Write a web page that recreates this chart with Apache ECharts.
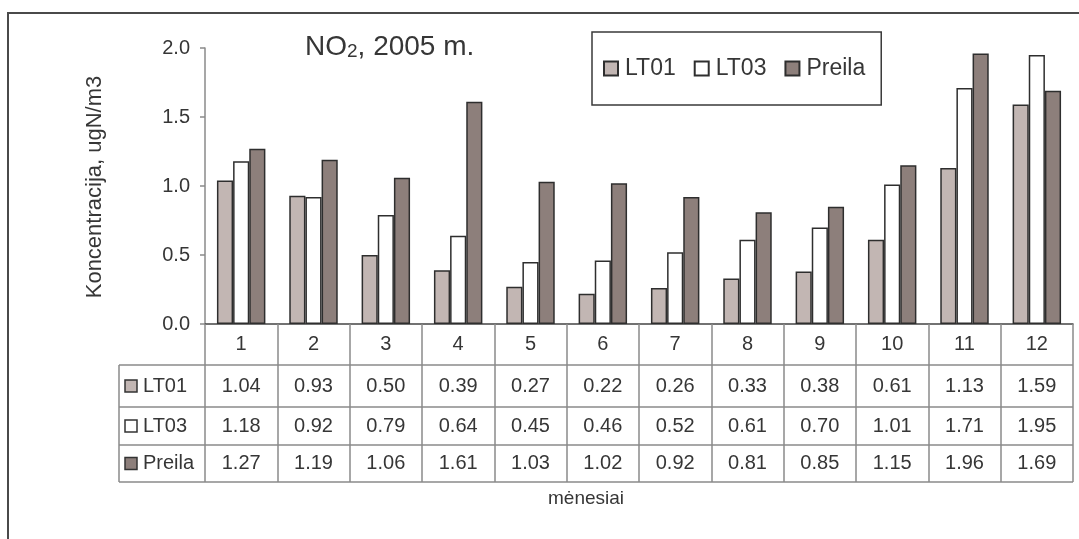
<!DOCTYPE html>
<html>
<head>
<meta charset="utf-8">
<script src="https://cdn.jsdelivr.net/npm/echarts@6/dist/echarts.min.js"></script>
<style>
  html, body { margin: 0; padding: 0; background: #ffffff; }
  #chart { width: 1079px; height: 539px; }
</style>
</head>
<body>
<div id="chart"></div>
<script>
// Monthly NO2 concentrations, 2005
const months = ['1', '2', '3', '4', '5', '6', '7', '8', '9', '10', '11', '12'];
const seriesNames = ['LT01', 'LT03', 'Preila'];
const lt01 = [1.04, 0.93, 0.50, 0.39, 0.27, 0.22, 0.26, 0.33, 0.38, 0.61, 1.13, 1.59];
const lt03 = [1.18, 0.92, 0.79, 0.64, 0.45, 0.46, 0.52, 0.61, 0.70, 1.01, 1.71, 1.95];
const preila = [1.27, 1.19, 1.06, 1.61, 1.03, 1.02, 0.92, 0.81, 0.85, 1.15, 1.96, 1.69];
const yMin = 0, yMax = 2, yStep = 0.5;

const seriesData = [lt01, lt03, preila];
const colors = ['#c2b6b3', '#ffffff', '#8d7f7b'];

// layout
const FONT = '"Liberation Sans", Arial, sans-serif';
const TEXT = '#363636';
const LINE = '#8a8a8a';
const W = 1079, H = 539;
const plot = { left: 205, right: 1073, top: 48, bottom: 324 };
const rowH = [41, 42, 38, 37];          // header row, then one row per series
const labelColLeft = 119;
const tableH = rowH.reduce((a, b) => a + b, 0);
const rowTop = [];
rowH.reduce((acc, h, i) => { rowTop[i] = acc; return acc + h; }, 0);

const chart = echarts.init(document.getElementById('chart'), null, { renderer: 'canvas' });

// month header axis + one value axis per table row
const xAxes = [{
  type: 'category',
  data: months,
  gridIndex: 0,
  position: 'bottom',
  axisLine: { show: true, lineStyle: { color: '#444', width: 1.5 } },
  axisTick: { show: true, alignWithLabel: false, length: tableH, lineStyle: { color: LINE, width: 1.5 } },
  axisLabel: { interval: 0, margin: rowH[0] / 2, verticalAlign: 'middle', fontSize: 20, color: TEXT, fontFamily: FONT },
  splitLine: { show: false }
}];
seriesData.forEach((vals, i) => {
  xAxes.push({
    type: 'category',
    data: vals.map(v => v.toFixed(2)),
    gridIndex: 0,
    position: 'bottom',
    offset: rowTop[i + 1],
    axisLine: { show: false },
    axisTick: { show: false },
    axisLabel: { interval: 0, margin: rowH[i + 1] / 2, verticalAlign: 'middle', fontSize: 20, color: TEXT, fontFamily: FONT },
    splitLine: { show: false }
  });
});

const graphic = [];
// outer chart frame
graphic.push({
  type: 'rect', silent: true, z: 0,
  shape: { x: 8, y: 13, width: W + 40, height: H + 40 },
  style: { fill: 'none', stroke: '#4a4a4a', lineWidth: 2 }
});
// table horizontal rules and left border
for (let i = 1; i <= rowH.length; i++) {
  const y = plot.bottom + rowTop[i - 1] + rowH[i - 1];
  graphic.push({
    type: 'line', silent: true,
    shape: { x1: labelColLeft, y1: y, x2: plot.right, y2: y },
    style: { stroke: LINE, lineWidth: 1.5 }
  });
}
graphic.push({
  type: 'line', silent: true,
  shape: { x1: labelColLeft, y1: plot.bottom + rowH[0], x2: labelColLeft, y2: plot.bottom + tableH },
  style: { stroke: LINE, lineWidth: 1.5 }
});
// row keys
seriesNames.forEach((name, i) => {
  const cy = plot.bottom + rowTop[i + 1] + rowH[i + 1] / 2;
  graphic.push({
    type: 'rect', silent: true,
    shape: { x: 125, y: cy - 6, width: 12, height: 12 },
    style: { fill: colors[i], stroke: '#333', lineWidth: 1.5 }
  });
  graphic.push({
    type: 'text', silent: true,
    x: 143, y: cy,
    style: { text: name, fontSize: 20, fill: TEXT, fontFamily: FONT, verticalAlign: 'middle', align: 'left' }
  });
});
// title with subscript
graphic.push({
  type: 'text', silent: true,
  x: 305, y: 28,
  style: {
    text: '{b|NO}{s|2}{b|, 2005 m.}',
    fontFamily: FONT,
    fill: TEXT,
    rich: {
      b: { fontSize: 28, lineHeight: 33, fontFamily: FONT, fill: TEXT, verticalAlign: 'bottom' },
      s: { fontSize: 19, lineHeight: 20, fontFamily: FONT, fill: TEXT, verticalAlign: 'bottom' }
    }
  }
});
// axis titles
graphic.push({
  type: 'text', silent: true,
  x: 95, y: (plot.top + plot.bottom) / 2 + 1, rotation: Math.PI / 2,
  style: { text: 'Koncentracija, ugN/m3', fontSize: 22, fill: TEXT, fontFamily: FONT, align: 'center', verticalAlign: 'middle' }
});
graphic.push({
  type: 'text', silent: true,
  x: 586, y: 499,
  style: { text: 'mėnesiai', fontSize: 19, fill: TEXT, fontFamily: FONT, align: 'center', verticalAlign: 'middle' }
});

const option = {
  animation: false,
  backgroundColor: '#ffffff',
  textStyle: { fontFamily: FONT },
  grid: {
    left: plot.left, right: W - plot.right, top: plot.top, bottom: H - plot.bottom,
    containLabel: false, outerBoundsMode: 'none'
  },
  legend: {
    data: seriesNames,
    left: 592, top: 32,
    orient: 'horizontal',
    padding: [25, 16, 25, 11],
    itemWidth: 14, itemHeight: 14, itemGap: 18,
    borderColor: '#3a3a3a', borderWidth: 1.5,
    icon: 'rect',
    selectedMode: false,
    textStyle: { fontSize: 23, color: TEXT, fontFamily: FONT, padding: [0, 0, 0, 2] }
  },
  xAxis: xAxes,
  yAxis: {
    type: 'value',
    min: yMin, max: yMax, interval: yStep,
    axisLine: { show: true, lineStyle: { color: '#8a8a8a', width: 1.5 } },
    axisTick: { show: true, inside: false, length: 5, lineStyle: { color: '#8a8a8a', width: 1.5 } },
    axisLabel: { margin: 15, fontSize: 20, color: TEXT, fontFamily: FONT, formatter: v => v.toFixed(1) },
    splitLine: { show: false }
  },
  series: seriesNames.map((name, i) => ({
    name,
    type: 'bar',
    xAxisIndex: 0,
    data: seriesData[i],
    barGap: '0%',
    barCategoryGap: '33%',
    itemStyle: { color: colors[i], borderColor: '#2e2e2e', borderWidth: 1.5 },
    emphasis: { disabled: true }
  })),
  graphic
};

chart.setOption(option);
</script>
</body>
</html>
